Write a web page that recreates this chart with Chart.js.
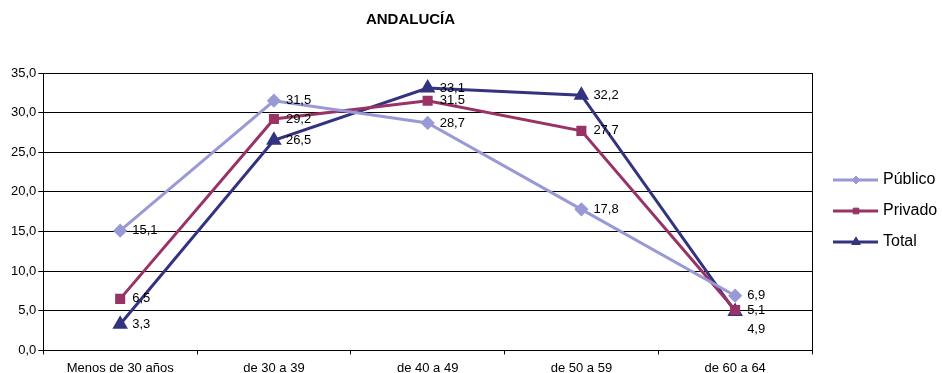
<!DOCTYPE html>
<html>
<head>
<meta charset="utf-8">
<script src="https://cdn.jsdelivr.net/npm/chart.js@4/dist/chart.umd.min.js"></script>
<style>
    html, body { margin: 0; padding: 0; background: #fff; }
    #wrap { width: 942px; height: 373px; position: relative; }
</style>
</head>
<body>
<div id="wrap"><canvas id="andaluciaChart"></canvas></div>
<script>
// Datos del gráfico
const categories = ['Menos de 30 años', 'de 30 a 39', 'de 40 a 49', 'de 50 a 59', 'de 60 a 64'];
const publico = [15.1, 31.5, 28.7, 17.8, 6.9];
const privado = [6.5, 29.2, 31.5, 27.7, 5.1];
const total = [3.3, 26.5, 33.1, 32.2, 4.9];
const yTicks = [0, 5, 10, 15, 20, 25, 30, 35];

const FONT = "'Liberation Sans', Arial, sans-serif";

// Etiquetas de valor a la derecha de cada punto
const valueLabels = {
    id: 'valueLabels',
    afterDatasetsDraw(chart) {
        const ctx = chart.ctx;
        ctx.save();
        ctx.font = '13px ' + FONT;
        ctx.fillStyle = '#000';
        ctx.textAlign = 'left';
        ctx.textBaseline = 'middle';
        chart.data.datasets.forEach((ds, i) => {
            chart.getDatasetMeta(i).data.forEach((pt, j) => {
                let dy = 0;
                // Excel separa la etiqueta solapada del último total
                if (i === 2 && j === 4) dy = 18;
                const txt = ds.data[j].toFixed(1).replace('.', ',');
                ctx.fillText(txt, pt.x + 12, pt.y + dy);
            });
        });
        ctx.restore();
    }
};

// Marco del área de trazado y leyenda con línea + marcador
const frameLegend = {
    id: 'frameLegend',
    afterDraw(chart) {
        const ctx = chart.ctx;
        const a = chart.chartArea;
        ctx.save();
        ctx.strokeStyle = '#000';
        ctx.lineWidth = 1;
        ctx.beginPath();
        ctx.moveTo(Math.round(a.right) + 0.5, a.top);
        ctx.lineTo(Math.round(a.right) + 0.5, a.bottom);
        ctx.stroke();

        const x0 = a.right + 21;
        const y0 = 180;
        chart.data.datasets.forEach((ds, i) => {
            const y = y0 + i * 31;
            ctx.strokeStyle = ds.borderColor;
            ctx.lineWidth = 3;
            ctx.beginPath();
            ctx.moveTo(x0, y);
            ctx.lineTo(x0 + 45, y);
            ctx.stroke();
            ctx.fillStyle = ds.pointBackgroundColor;
            ctx.strokeStyle = ds.pointBorderColor;
            ctx.lineWidth = 1;
            Chart.helpers.drawPoint(ctx, {
                pointStyle: ds.pointStyle,
                radius: ds.pointRadius - 1,
                rotation: 0,
                borderWidth: 1
            }, x0 + 23, y);
            ctx.fillStyle = '#000';
            ctx.font = '16px ' + FONT;
            ctx.textAlign = 'left';
            ctx.textBaseline = 'middle';
            ctx.fillText(ds.label, x0 + 50, y);
        });
        ctx.restore();
    }
};

function makeSet(label, data, color, style, radius) {
    return {
        label: label,
        data: data,
        borderColor: color,
        backgroundColor: color,
        pointBackgroundColor: color,
        pointBorderColor: color,
        pointStyle: style,
        pointRadius: radius,
        pointHoverRadius: radius,
        borderWidth: 3,
        tension: 0
    };
}

document.addEventListener('DOMContentLoaded', () => {
    const ctx = document.getElementById('andaluciaChart');
    new Chart(ctx, {
        type: 'line',
        data: {
            labels: categories,
            datasets: [
                makeSet('Público', publico, '#9999d6', 'rectRot', 5),
                makeSet('Privado', privado, '#993366', 'rect', 5),
                makeSet('Total', total, '#333380', 'triangle', 6)
            ]
        },
        options: {
            responsive: true,
            maintainAspectRatio: false,
            animation: false,
            layout: { padding: { left: 9, right: 130, bottom: -9 } },
            plugins: {
                legend: { display: false },
                tooltip: { enabled: false },
                title: {
                    display: true,
                    text: 'ANDALUCÍA',
                    color: '#000',
                    font: { family: FONT, size: 15, weight: 'bold' },
                    padding: { top: 11, bottom: 44 }
                }
            },
            scales: {
                x: {
                    offset: true,
                    grid: {
                        offset: true,
                        drawOnChartArea: false,
                        drawTicks: true,
                        tickLength: 4,
                        color: '#000'
                    },
                    border: { color: '#000', width: 1 },
                    ticks: {
                        color: '#000',
                        font: { family: FONT, size: 13 },
                        maxRotation: 0,
                        padding: 6
                    }
                },
                y: {
                    min: 0,
                    max: 35,
                    afterBuildTicks(scale) {
                        scale.ticks = yTicks.map(v => ({ value: v }));
                    },
                    grid: {
                        color: '#000',
                        drawTicks: true,
                        tickLength: 5
                    },
                    border: { color: '#000', width: 1 },
                    ticks: {
                        color: '#000',
                        font: { family: FONT, size: 13 },
                        padding: 2,
                        callback: v => v.toFixed(1).replace('.', ',')
                    }
                }
            }
        },
        plugins: [valueLabels, frameLegend]
    });
});
</script>
</body>
</html>
